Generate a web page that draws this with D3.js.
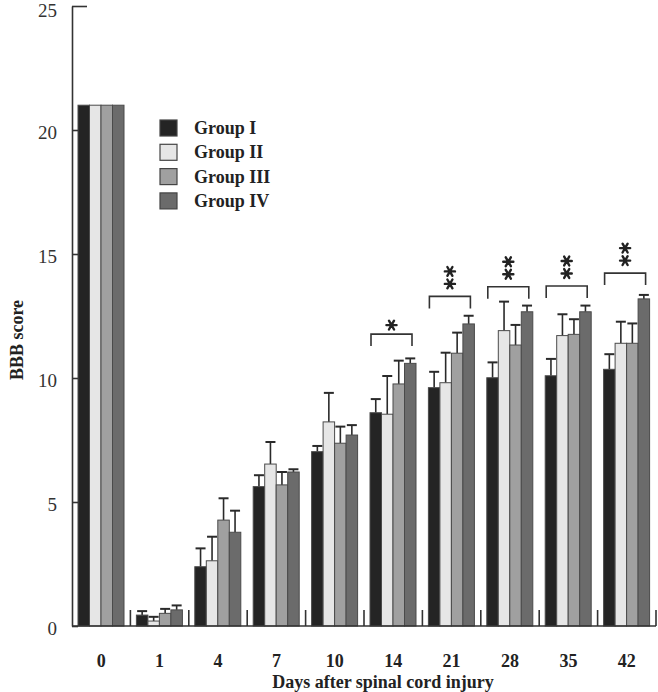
<!DOCTYPE html>
<html>
<head>
<meta charset="utf-8">
<script src="https://cdn.jsdelivr.net/npm/d3@7"></script>
<style>
  body { margin: 0; background: #fff; }
  svg { display: block; }
  text { font-family: 'Liberation Serif', 'Times New Roman', serif; }
</style>
</head>
<body>
<div id="chart"></div>
<script>
var days = ["0", "1", "4", "7", "10", "14", "21", "28", "35", "42"];
var groups = ["Group I", "Group II", "Group III", "Group IV"];
var groupColors = ["#242424", "#e6e6e6", "#a0a0a0", "#6b6b6b"];

// mean BBB score per day, one array per group
var meanI   = [21, 0.44, 2.39, 5.62, 7.03, 8.60, 9.61, 10.01, 10.09, 10.35];
var meanII  = [21, 0.20, 2.63, 6.53, 8.23, 8.54, 9.81, 11.91, 11.71, 11.40];
var meanIII = [21, 0.51, 4.27, 5.69, 7.37, 9.76, 11.00, 11.33, 11.76, 11.40];
var meanIV  = [21, 0.65, 3.78, 6.21, 7.70, 10.59, 12.18, 12.67, 12.67, 13.19];

// error bar (upper) lengths
var sdI   = [0, 0.16, 0.74, 0.46, 0.23, 0.55, 0.64, 0.62, 0.68, 0.61];
var sdII  = [0, 0.17, 0.97, 0.89, 1.17, 1.54, 1.21, 1.17, 0.86, 0.87];
var sdIII = [0, 0.18, 0.88, 0.52, 0.67, 0.94, 0.83, 0.81, 0.61, 0.80];
var sdIV  = [0, 0.18, 0.87, 0.11, 0.40, 0.20, 0.33, 0.25, 0.25, 0.16];

// significance brackets
var sigDays = ["14", "21", "28", "35", "42"];
var sigLevel = [11.77, 13.29, 13.68, 13.71, 14.23];
var sigStars = [1, 2, 2, 2, 2];

var yTicks = [0, 5, 10, 15, 20, 25];

var means = [meanI, meanII, meanIII, meanIV];
var sds = [sdI, sdII, sdIII, sdIV];

var W = 658, H = 692;
var svg = d3.select('#chart').append('svg')
    .attr('width', W).attr('height', H);

var x = d3.scaleBand().domain(days).range([72, 656]).padding(0);
var xg = d3.scaleBand().domain(groups).range([6, 52]).padding(0);
var y = d3.scaleLinear().domain([0, 25]).range([626, 6]);

// bars
var cells = [];
days.forEach(function (d, i) {
    groups.forEach(function (g, j) {
        cells.push({ day: d, group: g, gi: j, v: means[j][i], e: sds[j][i] });
    });
});

var bar = svg.append('g').selectAll('g.bar').data(cells).enter().append('g')
    .attr('class', 'bar')
    .attr('transform', function (d) { return 'translate(' + (x(d.day) + xg(d.group)) + ',0)'; });

var bw = xg.bandwidth();
var capW = 10;

bar.filter(function (d) { return d.e > 0; }).append('line')
    .attr('x1', bw / 2).attr('x2', bw / 2)
    .attr('y1', function (d) { return y(d.v); })
    .attr('y2', function (d) { return y(d.v + d.e); })
    .attr('stroke', '#2a2a2a').attr('stroke-width', 1.6);

bar.filter(function (d) { return d.e > 0; }).append('line')
    .attr('x1', bw / 2 - capW / 2).attr('x2', bw / 2 + capW / 2)
    .attr('y1', function (d) { return y(d.v + d.e); })
    .attr('y2', function (d) { return y(d.v + d.e); })
    .attr('stroke', '#2a2a2a').attr('stroke-width', 2);

bar.append('rect')
    .attr('x', 0)
    .attr('width', bw)
    .attr('y', function (d) { return y(d.v); })
    .attr('height', function (d) { return y(0) - y(d.v); })
    .attr('fill', function (d) { return groupColors[d.gi]; })
    .attr('stroke', '#4a4a4a').attr('stroke-width', 1);

// y axis
var yAxis = svg.append('g').attr('transform', 'translate(72,0)')
    .call(d3.axisLeft(y).tickValues(yTicks).tickSize(-6).tickSizeOuter(0).tickPadding(15));
yAxis.select('.domain').attr('stroke', '#333').attr('stroke-width', 1.6);
yAxis.selectAll('.tick line').attr('stroke', '#333').attr('stroke-width', 1.6)
    .attr('x2', function (d) { return d === 25 ? 15 : 6; });
yAxis.selectAll('.tick text')
    .attr('font-family', "'Liberation Serif', 'Times New Roman', serif")
    .attr('font-size', 19).attr('fill', '#333')
    .attr('dy', function (d) { return d === 25 ? '0.55em' : '0.45em'; });

// x axis line and separators
svg.append('line')
    .attr('x1', 72).attr('x2', 656).attr('y1', y(0)).attr('y2', y(0))
    .attr('stroke', '#333').attr('stroke-width', 1.6);

svg.append('g').selectAll('line').data(days).enter().append('line')
    .attr('x1', function (d) { return x(d) + x.bandwidth(); })
    .attr('x2', function (d) { return x(d) + x.bandwidth(); })
    .attr('y1', y(0)).attr('y2', y(0) - 16)
    .attr('stroke', '#333').attr('stroke-width', 1.6);

svg.append('g').selectAll('text').data(days).enter().append('text')
    .attr('x', function (d) { return x(d) + x.bandwidth() / 2; })
    .attr('y', 667)
    .attr('text-anchor', 'middle')
    .attr('font-size', 18).attr('font-weight', 'bold').attr('fill', '#222')
    .text(function (d) { return d; });

svg.append('text')
    .attr('x', 383).attr('y', 688)
    .attr('text-anchor', 'middle')
    .attr('font-size', 18).attr('font-weight', 'bold').attr('fill', '#222')
    .text('Days after spinal cord injury');

svg.append('text')
    .attr('transform', 'translate(23,340) rotate(-90)')
    .attr('text-anchor', 'middle')
    .attr('font-size', 18).attr('font-weight', 'bold').attr('fill', '#222')
    .text('BBB score');

// significance brackets
var sig = svg.append('g').selectAll('g').data(sigDays).enter().append('g');
sig.append('path')
    .attr('d', function (d, i) {
        var x1 = x(d) + 7, x2 = x(d) + 48, yb = y(sigLevel[i]);
        return 'M' + x1 + ',' + (yb + 12) + 'V' + yb + 'H' + x2 + 'V' + (yb + 12);
    })
    .attr('fill', 'none').attr('stroke', '#333').attr('stroke-width', 1.6);

// asterisks drawn as symbols so stacked pairs sit tight like the original
var star = d3.symbol(d3.symbolAsterisk, 72);
sig.each(function (d, i) {
    var cx = x(d) + 27.5, yb = y(sigLevel[i]);
    var offs = sigStars[i] === 1 ? [9] : [25, 12.5];
    d3.select(this).selectAll('path.star').data(offs).enter().append('path')
        .attr('class', 'star')
        .attr('d', star)
        .attr('transform', function (o) { return 'translate(' + cx + ',' + (yb - o) + ') rotate(90)'; })
        .attr('fill', 'none').attr('stroke', '#222')
        .attr('stroke-width', 2.4).attr('stroke-linecap', 'round');
});

// legend
var legend = svg.append('g').selectAll('g').data(groups).enter().append('g')
    .attr('transform', function (d, i) { return 'translate(160,' + (120 + i * 24.3) + ')'; });
legend.append('rect')
    .attr('width', 17).attr('height', 16)
    .attr('fill', function (d, i) { return groupColors[i]; })
    .attr('stroke', '#444').attr('stroke-width', 1.2);
legend.append('text')
    .attr('x', 34).attr('y', 14)
    .attr('font-size', 18).attr('font-weight', 'bold').attr('fill', '#222')
    .text(function (d) { return d; });
</script>
</body>
</html>
